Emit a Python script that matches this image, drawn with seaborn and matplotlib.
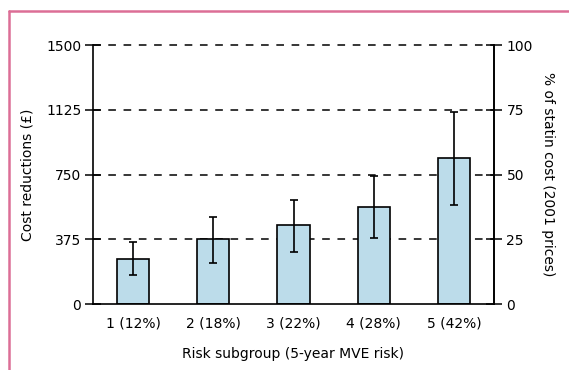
"""
Cost reductions by risk subgroup, bar chart with error bars and a twin % axis.
"""

import matplotlib
matplotlib.use("Agg")
import matplotlib.pyplot as plt
from matplotlib.lines import Line2D
import numpy as np
import pandas as pd
import seaborn as sns

# data
groups     = ["1 (12%)", "2 (18%)", "3 (22%)", "4 (28%)", "5 (42%)"]
cost_mean  = [259, 375, 456, 561, 843]
cost_low   = [167, 240, 302, 381, 574]
cost_high  = [357, 501, 603, 742, 1114]
left_ticks  = [0, 375, 750, 1125, 1500]
right_ticks = [0, 25, 50, 75, 100]

sns.set_style("white")
plt.rcParams.update({
    "font.family": ["DejaVu Sans"],
    "font.size":   10,
    "text.color":  "black",
    "axes.labelcolor": "black",
    "xtick.color": "black",
    "ytick.color": "black",
})

W, H = 569, 370
fig = plt.figure(figsize=(W / 100, H / 100), dpi=100)
ax = fig.add_axes([93 / W, 1 - 304 / H, (494 - 93) / W, (304 - 45) / H])

df = pd.DataFrame({"group": groups, "cost": cost_mean})

# dashed reference lines behind the bars
for y in left_ticks[1:]:
    ax.axhline(y, color="black", lw=1.1, ls=(0, (5, 5)), zorder=0,
               clip_on=False)

sns.barplot(data=df, x="group", y="cost", color="#bcdcea", width=0.4,
            edgecolor="black", linewidth=1.2, saturation=1, ax=ax, zorder=2)

x = np.arange(len(groups))
mean = np.array(cost_mean)
yerr = [mean - np.array(cost_low), np.array(cost_high) - mean]
ax.errorbar(x, mean, yerr=yerr, fmt="none", ecolor="black",
            elinewidth=1.2, capsize=3, capthick=1.2, zorder=3)

ax.set_xlim(-0.5, len(groups) - 0.5)
ax.set_ylim(0, 1500)
ax.set_yticks(left_ticks)
ax.set_yticklabels([str(t) for t in left_ticks])
ax.tick_params(axis="y", direction="inout", length=11, width=1.1, pad=3,
               labelsize=10, colors="black")
ax.tick_params(axis="x", length=0, pad=9, labelsize=10, colors="black")
ax.set_xlabel("Risk subgroup (5-year MVE risk)", fontsize=10, labelpad=12)
ax.set_ylabel("Cost reductions (£)", fontsize=10, labelpad=8)

for side in ["left", "right", "bottom"]:
    ax.spines[side].set_color("black")
    ax.spines[side].set_linewidth(1.2)
ax.spines["top"].set_visible(False)

ax2 = ax.twinx()
ax2.set_ylim(0, 100)
ax2.set_yticks(right_ticks)
ax2.set_yticklabels([str(t) for t in right_ticks])
ax2.tick_params(axis="y", direction="inout", length=12, width=1.1, pad=3,
                labelsize=10, colors="black")
ax2.set_ylabel("% of statin cost (2001 prices)", fontsize=10,
               rotation=270, labelpad=16)
for side in ["left", "bottom", "top"]:
    ax2.spines[side].set_visible(False)
ax2.spines["right"].set_color("black")
ax2.spines["right"].set_linewidth(1.2)

# pink frame on the left and top edges
frame = "#dc6e96"
fig.add_artist(Line2D([8.5 / W, 8.5 / W], [0, 1 - 11 / H],
                      transform=fig.transFigure, color=frame, lw=1.8))
fig.add_artist(Line2D([8.5 / W, 1], [1 - 11 / H, 1 - 11 / H],
                      transform=fig.transFigure, color=frame, lw=1.8))

fig.savefig("out.png", dpi=100)
plt.close(fig)
